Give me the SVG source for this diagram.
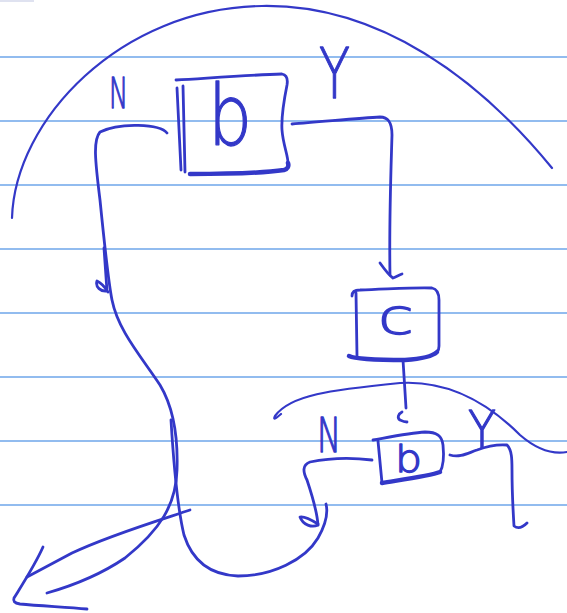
<svg xmlns="http://www.w3.org/2000/svg" width="567" height="613" viewBox="0 0 567 613">
<style>
.rule{stroke:#6ea6ea;stroke-width:1.3;fill:none}
.ink{stroke:#3338c8;stroke-width:2.8;fill:none;stroke-linecap:round;stroke-linejoin:round}
.thin{stroke-width:2.2}
.thick{stroke-width:4.5}
.lbl{fill:#3338c8;stroke:#3338c8;stroke-width:1.3;stroke-linejoin:round;font-family:"DejaVu Sans","Liberation Sans",sans-serif;font-weight:200}
</style>
<rect width="567" height="613" fill="#ffffff"/>
<g id="paper">
<rect x="0" y="0" width="34" height="2" fill="#dfe2f0"/>
<line class="rule" x1="0" y1="57" x2="567" y2="57"/>
<line class="rule" x1="0" y1="121" x2="567" y2="121"/>
<line class="rule" x1="0" y1="185" x2="567" y2="185"/>
<line class="rule" x1="0" y1="249" x2="567" y2="249"/>
<line class="rule" x1="0" y1="313" x2="567" y2="313"/>
<line class="rule" x1="0" y1="377" x2="567" y2="377"/>
<line class="rule" x1="0" y1="441" x2="567" y2="441"/>
<line class="rule" x1="0" y1="505" x2="567" y2="505"/>
</g>
<g id="arcs">
<path class="ink thin" d="M12,218 C15,120 120,8 262,6 C380,4 480,80 552,168"/>
<path class="ink thin" d="M281,414 Q272,422 275,416 C290,395 330,390 400,383 C450,380 490,405 520,435 C535,448 550,455 567,452"/>
</g>
<g id="node-b-top">
<path class="ink" d="M176,80 C210,78 250,75 282,74 C287,75 288,79 287,85 C284,100 281,115 282,130 C283,145 289,158 288,165"/>
<path class="ink" d="M177,88 L181,170 M183,86 L185,172"/>
<path class="ink thick" d="M190,174 C230,174 270,172 284,170 C288,169 289,166 288,163"/>
<text class="lbl" x="208" y="145" font-size="84" textLength="44" lengthAdjust="spacingAndGlyphs">b</text>
</g>
<g id="node-c">
<path class="ink" d="M352,296 C352,292 354,290 360,290 C390,289 420,287 432,288 C437,289 439,293 439,300 L439,346 C439,352 436,354 432,355"/>
<path class="ink" d="M356,293 L357,356"/>
<path class="ink thick" d="M349,356 C355,359 380,360 405,360 C420,359 432,357 437,352"/>
<text class="lbl" x="378" y="334" font-size="50" textLength="36" lengthAdjust="spacingAndGlyphs">c</text>
</g>
<g id="node-b-bottom">
<path class="ink" d="M373,440 C390,437 410,433 425,432 C437,432 442,436 443,445 C444,455 444,465 440,472"/>
<path class="ink" d="M378,441 L382,483"/>
<path class="ink thick" d="M382,483 C400,480 430,476 440,472"/>
<text class="lbl" x="395" y="472" font-size="38" textLength="27" lengthAdjust="spacingAndGlyphs">b</text>
</g>
<g id="connectors">
<path class="ink" d="M167,133 C160,124 120,122 100,132 C93,140 95,160 100,200 C104,240 108,280 112,300 C118,330 140,355 160,385 C175,410 178,440 177,470 C176,505 160,530 125,558 C100,575 75,585 47,593"/>
<path class="ink" d="M104,248 L107,291 C101,292 95,287 97,281 C101,283 105,287 108,292"/>
<path class="ink" d="M171,420 C174,470 178,510 184,535 C192,560 210,575 238,576 C272,576 305,560 318,538 C327,522 328,512 326,504"/>
<path class="ink" d="M190,510 C160,520 110,535 72,553 C55,562 40,570 27,577"/>
<path class="ink" d="M43,547 C35,565 22,585 14,598 C13,601 14,603 20,604 C40,606 65,607 87,609"/>
<path class="ink" d="M292,124 C320,122 360,118 380,117 C388,117 392,122 392,135 C391,170 389,220 390,275"/>
<path class="ink" d="M380,263 C385,270 390,276 393,278 C396,277 399,275 402,274"/>
<path class="ink" d="M403,360 C404,375 405,392 406,408"/>
<path class="ink" d="M402,412 C398,414 397,418 400,420 C402,421 405,422 407,422"/>
<path class="ink" d="M372,460 C355,458 330,458 310,462 C302,465 303,472 307,480 C312,495 317,510 318,525"/>
<path class="ink" d="M318,525 C312,528 303,525 300,517 C304,516 310,519 318,524"/>
<path class="ink" d="M450,455 C460,458 468,453 477,450 C485,447 495,444 507,445 C512,450 512,460 512,470 C512,490 513,510 514,526 C518,529 523,527 527,523"/>
<text class="lbl" x="109" y="108" font-size="43" textLength="19" lengthAdjust="spacingAndGlyphs">N</text>
<text class="lbl" x="319" y="98" font-size="70" textLength="31" lengthAdjust="spacingAndGlyphs">Y</text>
<text class="lbl" x="317" y="452" font-size="48" textLength="24" lengthAdjust="spacingAndGlyphs">N</text>
<text class="lbl" x="468" y="448" font-size="52" textLength="28" lengthAdjust="spacingAndGlyphs">Y</text>
</g>
</svg>
